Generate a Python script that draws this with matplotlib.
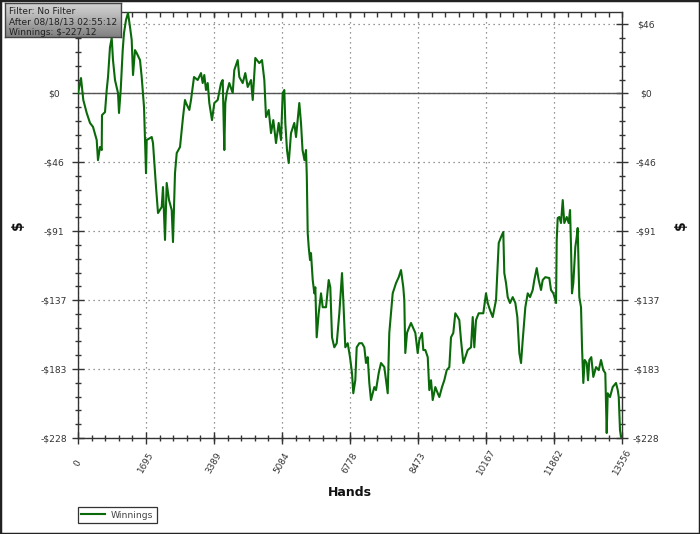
"""
Winnings graph: cumulative $ over hands played
"""
import numpy as np
import matplotlib
matplotlib.use("Agg")
import matplotlib.pyplot as plt
from matplotlib.ticker import FixedLocator, AutoMinorLocator
from matplotlib.patches import Rectangle
from matplotlib.lines import Line2D

# ---- data ----
hands = [0, 75, 132, 217, 299, 374, 466, 498, 548, 591,
         598, 673, 715, 748, 797, 840, 872, 922, 997, 1022,
         1064, 1114, 1146, 1196, 1246, 1296, 1338, 1371, 1420, 1463,
         1545, 1587, 1645, 1695, 1712, 1837, 1869, 1944, 1994, 2086,
         2118, 2168, 2210, 2268, 2335, 2367, 2417, 2460, 2542, 2617,
         2666,
         2691, 2774, 2816, 2891, 2983, 3065, 3107, 3147, 3190, 3232,
         3272, 3339, 3397, 3481, 3564, 3606, 3646, 3671, 3706, 3770,
         3855, 3895, 3980, 4020, 4104, 4169, 4229, 4311, 4354, 4418,
         4518, 4585, 4643, 4685, 4752, 4810, 4867, 4934, 5001, 5059,
         5101, 5141, 5166, 5208, 5251, 5308, 5390, 5433,
         5515, 5557, 5595, 5644, 5682, 5702, 5724, 5749, 5782, 5806,
         5849, 5889, 5914, 5948, 5998, 6056, 6098, 6180, 6247, 6287,
         6330, 6387, 6447, 6512, 6579, 6611, 6661, 6721, 6778, 6828,
         6860, 6910, 6945, 7010, 7077, 7135, 7177, 7219, 7259, 7301,
         7344, 7384, 7426, 7493, 7551, 7633, 7675, 7718, 7757, 7800,
         7842, 7925, 7992, 8049, 8106, 8131, 8156, 8199, 8224,
         8298, 8341, 8406, 8465, 8505, 8572, 8605, 8655, 8715, 8754,
         8797, 8839, 8904, 8964, 9004, 9071, 9128, 9188, 9253, 9295,
         9352, 9402, 9462, 9502, 9544, 9602, 9651, 9711, 9794, 9836,
         9876, 9918, 9985, 10043, 10100, 10167, 10210, 10267, 10334, 10417,
         10484, 10541, 10598, 10623, 10666, 10708, 10765, 10833, 10898, 10948,
         10998, 11040, 11082, 11147, 11207, 11264, 11331, 11371, 11431, 11480,
         11538, 11580, 11645, 11745, 11787, 11845, 11894, 11912, 11929, 11954,
         11994, 12036, 12079, 12118, 12178, 12228, 12261, 12286, 12310, 12343,
         12393, 12427, 12452, 12492, 12535, 12560, 12592, 12627, 12677, 12709,
         12742, 12791, 12841, 12909, 12976, 13033, 13090, 13140, 13175, 13200,
         13257, 13324, 13407, 13450, 13475, 13506, 13531, 13556]

winnings = [0.0, 10.1, -4.4, -13.0, -19.6, -22.2, -30.9, -44.2, -35.5, -37.5,
            -14.4, -12.4, 2.2, 10.8, 30.6, 36.5, 22.0, 8.8, 0.2, -13.0,
            2.2, 28.6, 39.9, 48.5, 53.2, 43.9, 35.3, 12.1, 28.6, 26.6,
            22.0, 10.8, -9.1, -52.8, -30.9, -28.9, -32.9, -62.0, -79.2, -75.2,
            -62.0, -97.0, -59.3, -70.6, -77.2, -98.4, -52.8, -39.5, -35.5, -15.7,
            -4.4,
            -6.4, -11.0, -4.4, 10.8, 8.8, 13.4, 6.8, 12.1, 2.2, 6.8,
            -6.4, -17.7, -6.4, -4.4, 6.8, 8.8, -37.5, -6.4, 0.2, 6.8,
            0.2, 15.4, 22.0, 10.8, 6.8, 13.4, 4.2, 8.8, -4.4, 23.4,
            20.0, 22.0, 8.8, -15.7, -11.0, -26.3, -17.7, -32.9, -19.6, -30.9,
            0.2, 2.2, -19.6, -37.5, -46.1, -26.3, -19.6, -28.9,
            -6.4, -19.6, -37.5, -44.2, -37.5, -55.4, -92.3, -101.7, -110.3, -105.7,
            -123.5, -132.3, -128.3, -161.4, -145.5, -132.3, -141.5, -141.5, -123.5, -128.3,
            -161.4, -168.0, -165.3, -145.5, -118.9, -136.7, -168.0, -165.3, -174.5, -185.1,
            -198.4, -189.8, -168.0, -165.3, -165.3, -168.0, -178.4, -174.5, -191.6, -202.9,
            -198.4, -194.3, -196.3, -185.1, -178.4, -181.1, -189.8, -198.4, -158.5, -145.5,
            -132.3, -125.5, -121.6, -116.9, -128.3, -136.7, -171.8, -158.5, -156.6,
            -151.9, -154.6, -158.5, -171.8, -163.2, -158.5, -169.8, -169.8, -174.5, -196.3,
            -189.8, -202.9, -194.3, -198.4, -200.9, -194.3, -189.8, -183.1, -181.1, -161.4,
            -158.5, -145.5, -148.0, -150.0, -163.2, -178.4, -174.5, -169.8, -168.0, -148.0,
            -168.0, -150.0, -145.5, -145.5, -145.5, -132.3, -138.7, -143.4, -148.0, -136.7,
            -99.0, -95.1, -91.7, -118.9, -125.5, -134.8, -138.7, -134.8, -138.7, -148.0,
            -171.8, -178.4, -163.2, -141.5, -132.3, -134.8, -130.1, -123.5, -115.6, -123.5,
            -130.1, -123.5, -121.6, -122.2, -130.1, -132.3, -136.7, -138.7, -97.0, -82.5,
            -81.8, -85.8, -70.6, -85.8, -81.8, -85.8, -77.2, -101.7, -132.3, -125.5,
            -101.7, -95.1, -89.1, -134.8, -141.5, -168.0, -191.6, -176.4, -178.4, -189.8,
            -176.4, -174.5, -187.6, -181.1, -183.1, -176.4, -183.1, -185.1, -224.7, -198.4,
            -200.9, -194.3, -191.6, -196.3, -200.9, -222.7, -227.4, -227.12]

x_ticks = [0, 1695, 3389, 5084, 6778, 8473, 10167, 11862, 13556]
y_ticks = [45.6, 0, -45.6, -91.2, -136.8, -182.4, -228.0]
y_tick_labels = ["\\$46", "\\$0", "-\\$46", "-\\$91", "-\\$137", "-\\$183", "-\\$228"]
info_lines = ["Filter: No Filter", "After 08/18/13 02:55:12", "Winnings: \\$-227.12"]

plt.rcParams['font.family'] = ['DejaVu Sans']

W, H = 700, 534
fig = plt.figure(figsize=(W / 100, H / 100), dpi=100)
fig.patch.set_facecolor('white')

# plot area in pixels: x 78..622, y 12..438
ax = fig.add_axes([78 / W, 1 - 438 / H, 544 / W, 426 / H])
ax.plot(hands, winnings, color='#0a6a0a', lw=1.5, zorder=3)
ax.axhline(0, color='#555555', lw=1.0, zorder=2)

ax.set_xlim(0, 13556)
ax.set_ylim(-228, 53.8)

ax.xaxis.set_major_locator(FixedLocator(x_ticks))
ax.yaxis.set_major_locator(FixedLocator(y_ticks))
ax.set_xticklabels([str(v) for v in x_ticks])
ax.set_yticklabels(y_tick_labels)
ax.xaxis.set_minor_locator(AutoMinorLocator(5))
ax.yaxis.set_minor_locator(AutoMinorLocator(5))

ax.grid(True, which='major', color='#777777', lw=0.9, linestyle=(0, (1, 3)))

for s in ax.spines.values():
    s.set_color('#333333')
    s.set_linewidth(1.0)

ax.tick_params(axis='both', which='major', direction='inout', length=8,
               width=1, color='#333333', labelcolor='#333333')
ax.tick_params(axis='both', which='minor', direction='inout', length=4.5,
               width=1, color='#333333')
ax.tick_params(axis='y', which='both', left=True, right=True,
               labelleft=True, labelright=True, pad=13.5, labelsize=6.6)
ax.tick_params(axis='x', which='both', bottom=True, top=False,
               pad=14, labelsize=6.4)

for t in ax.yaxis.get_major_ticks():
    t.label1.set_horizontalalignment('center')
    t.label2.set_horizontalalignment('center')
# the info box hides the top-left label in the original
ax.yaxis.get_major_ticks()[0].label1.set_visible(False)
for lab in ax.get_xticklabels():
    lab.set_rotation(60)
    lab.set_horizontalalignment('center')
    lab.set_verticalalignment('center')

# top ticks point inward only
axt = ax.twiny()
axt.set_xlim(ax.get_xlim())
axt.xaxis.set_major_locator(FixedLocator(x_ticks))
axt.xaxis.set_minor_locator(AutoMinorLocator(5))
axt.tick_params(axis='x', which='both', direction='in', length=3.5,
                width=1, color='#333333', labeltop=False)
for s in axt.spines.values():
    s.set_visible(False)

# axis titles
fig.text(350 / W, 1 - 493 / H, "Hands", ha='center', va='center',
         fontsize=9, fontweight='bold', color='#111111')
fig.text(18 / W, 1 - 225 / H, "\\$", ha='center', va='center', rotation=90,
         fontsize=10, fontweight='bold', color='#111111')
fig.text(681 / W, 1 - 225 / H, "\\$", ha='center', va='center', rotation=90,
         fontsize=10, fontweight='bold', color='#111111')

# legend
handles = [Line2D([], [], color='#0a6a0a', lw=1.5)]
leg = fig.legend(handles, ["Winnings"], loc='lower left',
                 bbox_to_anchor=(78 / W, 1 - 523 / H), borderaxespad=0,
                 fancybox=False, edgecolor='#333333', framealpha=1,
                 prop={'size': 6.7}, handlelength=2.5, handletextpad=0.7,
                 borderpad=0.35)
leg.get_frame().set_linewidth(0.9)
for txt in leg.get_texts():
    txt.set_color('#444444')

# info box in top-left corner with a grey gradient
axi = fig.add_axes([5 / W, 1 - 37 / H, 116 / W, 34 / H])
grad = np.linspace(0, 1, 64).reshape(-1, 1)
axi.imshow(grad, aspect='auto', cmap='Greys', vmin=-0.9, vmax=2.4,
           extent=(0, 1, 0, 1))
axi.set_xticks([])
axi.set_yticks([])
for s in axi.spines.values():
    s.set_color('#444444')
    s.set_linewidth(1.0)
for i, line in enumerate(info_lines):
    fig.text(9 / W, 1 - (11 + i * 10.7) / H, line, ha='left', va='center',
             fontsize=6.5, color='#222222')

# outer frame of the picture
fig.patches.append(Rectangle((0, 0), 1, 1, transform=fig.transFigure,
                             fill=False, edgecolor='#222222', lw=2.5))

fig.savefig("out.png", dpi=100)
